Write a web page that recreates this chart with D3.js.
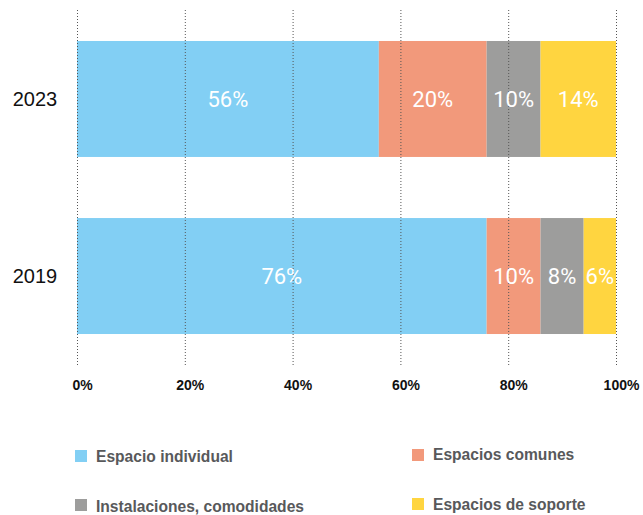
<!DOCTYPE html>
<html>
<head>
<meta charset="utf-8">
<script src="https://cdn.jsdelivr.net/npm/d3@7"></script>
<style>
  html, body { margin: 0; padding: 0; background: #fff; }
  svg { display: block; }
</style>
</head>
<body>
<svg id="chart" width="643" height="515"></svg>
<script>
const years = ["2023", "2019"];
const seriesNames = ["Espacio individual", "Espacios comunes", "Instalaciones, comodidades", "Espacios de soporte"];
const values2023 = [56, 20, 10, 14];
const values2019 = [76, 10, 8, 6];
const tickValues = [0, 20, 40, 60, 80, 100];
const tickLabels = ["0%", "20%", "40%", "60%", "80%", "100%"];
const colors = ["#82CFF4", "#F2997B", "#9D9D9C", "#FFD540"];

const valuesByYear = { "2023": values2023, "2019": values2019 };

const svg = d3.select("#chart");

const x = d3.scaleLinear().domain([0, 100]).range([77, 616]);
const y = d3.scaleBand().domain(years).range([10, 365]).paddingInner(0.345).paddingOuter(0.175);

const rows = years.map(yr => {
  const o = { year: yr };
  seriesNames.forEach((s, i) => o[s] = valuesByYear[yr][i]);
  return o;
});
const stack = d3.stack().keys(seriesNames)(rows);

const g = svg.append("g");
stack.forEach((layer, i) => {
  g.selectAll(null).data(layer).enter().append("rect")
    .attr("x", d => x(d[0]))
    .attr("y", d => y(d.data.year))
    .attr("width", d => x(d[1]) - x(d[0]))
    .attr("height", y.bandwidth())
    .attr("fill", colors[i]);
});

const [r0, r1] = y.range();
svg.append("g").selectAll("line").data(tickValues).enter().append("line")
  .attr("x1", d => x(d) + 0.5).attr("x2", d => x(d) + 0.5)
  .attr("y1", r0).attr("y2", r1)
  .attr("stroke", "#555")
  .attr("stroke-width", 1)
  .attr("stroke-dasharray", "1,2");

const lab = svg.append("g");
stack.forEach((layer, i) => {
  lab.selectAll(null).data(layer).enter().append("text")
    .attr("x", d => (x(d[0]) + x(d[1])) / 2)
    .attr("y", d => y(d.data.year) + y.bandwidth() / 2 + 8)
    .attr("text-anchor", "middle")
    .attr("fill", "#fff")
    .attr("font-family", "Roboto, 'Liberation Sans', sans-serif")
    .attr("font-size", "22px")
    .text(d => (d[1] - d[0]) + "%");
});

svg.append("g").selectAll("text").data(years).enter().append("text")
  .attr("x", 35)
  .attr("y", d => y(d) + y.bandwidth() / 2 + 7)
  .attr("text-anchor", "middle")
  .attr("fill", "#111")
  .attr("font-family", "'Liberation Sans', Arial, sans-serif")
  .attr("font-size", "20px")
  .text(d => d);

const axis = d3.axisBottom(x).tickValues(tickValues).tickFormat((d, i) => tickLabels[i]).tickSize(0);
const ax = svg.append("g").attr("transform", "translate(0,377)").call(axis);
ax.select(".domain").remove();
ax.selectAll("text")
  .attr("dx", 5)
  .attr("dy", 0)
  .attr("y", 13)
  .attr("fill", "#111")
  .attr("font-family", "'Liberation Sans', Arial, sans-serif")
  .attr("font-size", "14px")
  .attr("font-weight", "bold");

const legendPos = [
  { x: 75, y: 450, ty: 462 },
  { x: 412, y: 449, ty: 460 },
  { x: 75, y: 499, ty: 512 },
  { x: 412, y: 498, ty: 510 }
];
const lg = svg.append("g");
seriesNames.forEach((s, i) => {
  const p = legendPos[i];
  lg.append("rect").attr("x", p.x).attr("y", p.y).attr("width", 12).attr("height", 12).attr("fill", colors[i]);
  lg.append("text").attr("x", p.x + 21).attr("y", p.ty)
    .attr("fill", "#58595B")
    .attr("font-family", "'Liberation Sans', Arial, sans-serif")
    .attr("font-size", "15.6px")
    .attr("font-weight", "bold")
    .text(s);
});
</script>
</body>
</html>
